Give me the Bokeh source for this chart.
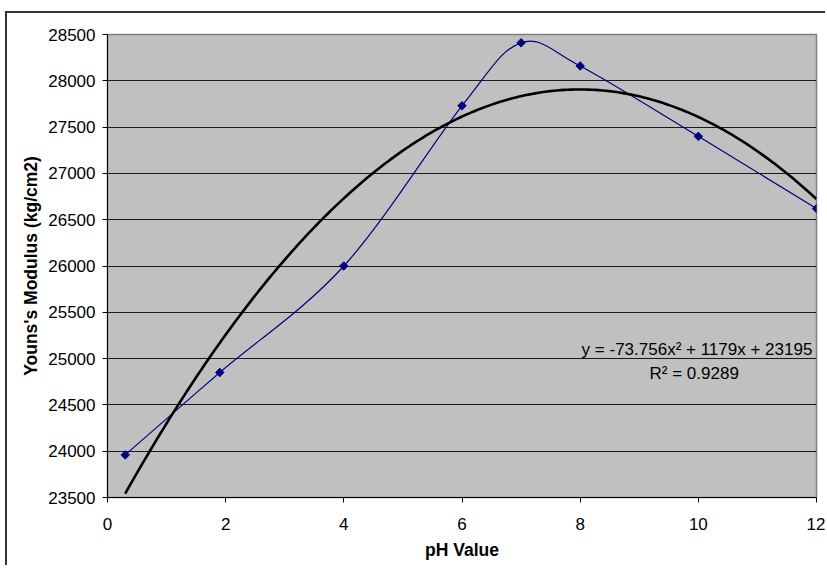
import math
from bokeh.plotting import figure
from bokeh.models import Range1d, FixedTicker, Label
from bokeh.embed import file_html
from bokeh.resources import INLINE

# Data
ph_values = [0.3, 1.9, 4.0, 6.0, 7.0, 8.0, 10.0, 12.0]
modulus = [23960, 24850, 26000, 27730, 28410, 28160, 27400, 26620]
# Polynomial trendline coefficients (a*x^2 + b*x + c) as shown on chart
trend_coeffs = [-73.756, 1179.0, 23195.0]
x_ticks = [0, 2, 4, 6, 8, 10, 12]
y_ticks = [23500, 24000, 24500, 25000, 25500, 26000, 26500, 27000, 27500, 28000, 28500]
equation_text = "y = -73.756x\u00b2 + 1179x + 23195"
r2_text = "R\u00b2 = 0.9289"

FONT = "Liberation Sans"

p = figure(width=820, height=554, output_backend="svg", toolbar_location=None,
           x_range=Range1d(0, 12), y_range=Range1d(23500, 28500),
           min_border_left=100, min_border_right=11, min_border_top=21,
           min_border_bottom=70)
p.margin = (11, 0, 0, 5)
p.styles = {"border-top": "2px solid #333333", "border-left": "2px solid #333333"}
p.background_fill_color = "#C0C0C0"
p.border_fill_color = "white"
p.outline_line_color = "#808080"
p.outline_line_width = 1.5

# Axes
for ax in (p.xaxis[0], p.yaxis[0]):
    ax.axis_line_color = "black"
    ax.axis_line_width = 1
    ax.major_tick_line_color = "black"
    ax.major_tick_out = 5
    ax.major_tick_in = 0
    ax.minor_tick_out = 0
    ax.minor_tick_in = 0
    ax.major_label_text_font = FONT
    ax.major_label_text_font_size = "17px"
    ax.major_label_text_color = "black"
    ax.axis_label_text_font = FONT
    ax.axis_label_text_font_size = "17.5px"
    ax.axis_label_text_font_style = "bold"
    ax.axis_label_text_color = "black"

p.xaxis.ticker = FixedTicker(ticks=x_ticks)
p.yaxis.ticker = FixedTicker(ticks=y_ticks)
p.xaxis.major_label_standoff = 15
p.yaxis.major_label_standoff = 7
p.xaxis.axis_label = "pH Value"
p.yaxis.axis_label = "Youns's Modulus (kg/cm2)"
p.xaxis.axis_label_standoff = 7
p.yaxis.axis_label_standoff = 4

p.xgrid.grid_line_color = None
p.ygrid.grid_line_color = "#1a1a1a"
p.ygrid.grid_line_width = 1

# Smoothed data line (Catmull-Rom style bezier through the points)
n = len(ph_values)
x0s, y0s, x1s, y1s, cx0s, cy0s, cx1s, cy1s = [], [], [], [], [], [], [], []
for i in range(n - 1):
    xp = ph_values[max(i - 1, 0)]; yp = modulus[max(i - 1, 0)]
    xa = ph_values[i]; ya = modulus[i]
    xb = ph_values[i + 1]; yb = modulus[i + 1]
    xn = ph_values[min(i + 2, n - 1)]; yn = modulus[min(i + 2, n - 1)]
    x0s.append(xa); y0s.append(ya); x1s.append(xb); y1s.append(yb)
    cx0s.append(xa + (xb - xp) / 6.0); cy0s.append(ya + (yb - yp) / 6.0)
    cx1s.append(xb - (xn - xa) / 6.0); cy1s.append(yb - (yn - ya) / 6.0)
p.bezier(x0=x0s, y0=y0s, x1=x1s, y1=y1s, cx0=cx0s, cy0=cy0s, cx1=cx1s, cy1=cy1s,
         line_color="#000080", line_width=1.2)

# Trendline
steps = 200
tx = [ph_values[0] + (ph_values[-1] - ph_values[0]) * k / steps for k in range(steps + 1)]
ty = [trend_coeffs[0] * x * x + trend_coeffs[1] * x + trend_coeffs[2] for x in tx]
p.line(tx, ty, line_color="black", line_width=2.6)

# Markers
p.scatter(ph_values, modulus, marker="square", size=6, angle=math.pi / 4,
          fill_color="#000080", line_color="#000080")

# Trendline equation labels
p.add_layout(Label(x=11.93, y=25095, text=equation_text, text_align="right",
                   text_baseline="alphabetic", text_font=FONT, text_font_size="17px",
                   text_color="black"))
p.add_layout(Label(x=9.93, y=24840, text=r2_text, text_align="center",
                   text_baseline="alphabetic", text_font=FONT, text_font_size="17px",
                   text_color="black"))

open("out.html", "w").write(file_html(p, INLINE))
